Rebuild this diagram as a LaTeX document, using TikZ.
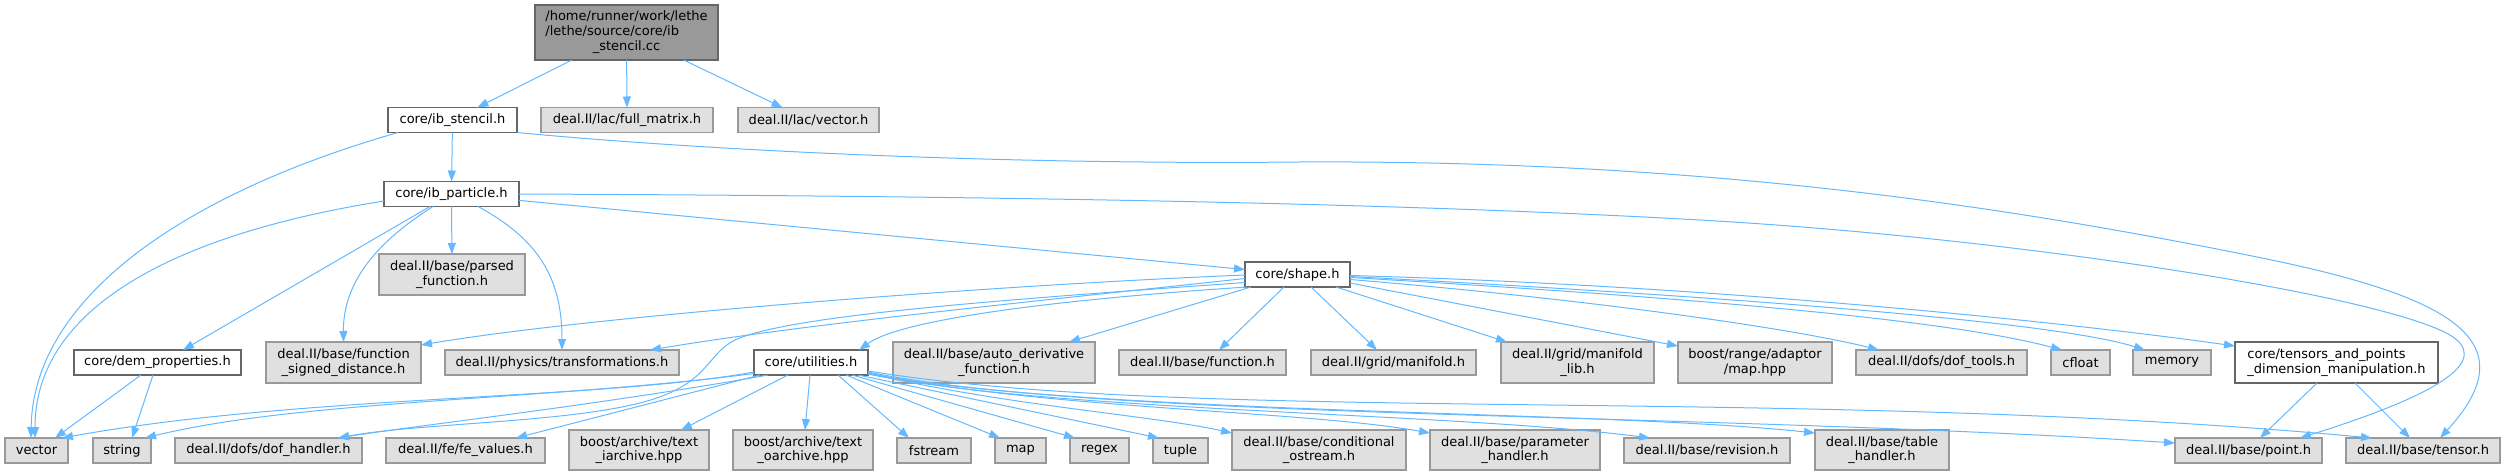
\documentclass[tikz,border=0pt]{standalone}
\usepackage{fontspec}
\setmainfont{DejaVu Sans}
\usetikzlibrary{arrows.meta,calc}
\definecolor{edgec}{HTML}{63B8FF}
\definecolor{gfill}{HTML}{E0E0E0}
\definecolor{gline}{HTML}{999999}
\definecolor{wline}{HTML}{666666}
\definecolor{mfill}{HTML}{999999}
\begin{document}
\begin{tikzpicture}[x=1pt,y=-1pt,
  every node/.style={font=\fontsize{13pt}{14.7pt}\selectfont, inner sep=0pt, outer sep=0pt, text=black},
  gbox/.style={draw=gline, fill=gfill, line width=1.2pt, align=center},
  wbox/.style={draw=wline, fill=white, line width=1.2pt, align=center},
  mbox/.style={draw=wline, fill=mfill, line width=1.2pt},
  conn/.style={draw=edgec, line width=1pt, -{Triangle[length=11pt,width=8pt]}},
  s1/.style={minimum height=25pt},
  s2/.style={minimum height=41pt}
]
\useasboundingbox (0,0) rectangle (2505,476);

% nodes
\node[mbox, minimum width=183pt, minimum height=55pt] (main) at (626.5,32.5)
  {\begin{tabular}{@{}l@{}}/home/runner/work/lethe\\/lethe/source/core/ib\\\multicolumn{1}{@{}c@{}}{\_stencil.cc}\end{tabular}};
\node[wbox, s1, minimum width=129pt] (stencil) at (452.5,120) {core/ib\_stencil.h};
\node[gbox, s1, minimum width=172pt] (fullm) at (627,120) {deal.II/lac/full\_matrix.h};
\node[gbox, s1, minimum width=141pt] (lvec) at (808.5,120) {deal.II/lac/vector.h};
\node[wbox, s1, minimum width=135pt] (part) at (451.5,194) {core/ib\_particle.h};
\node[gbox, s2, minimum width=146pt] (parsed) at (452,274.5) {deal.II/base/parsed\\\_function.h};
\node[wbox, s1, minimum width=105pt] (shape) at (1297.5,274.5) {core/shape.h};

\node[wbox, s1, minimum width=167pt] (dem) at (157.5,362.5) {core/dem\_properties.h};
\node[gbox, s2, minimum width=155pt] (fsd) at (343.5,362.5) {deal.II/base/function\\\_signed\_distance.h};
\node[gbox, s1, minimum width=234pt] (trans) at (562,362.5) {deal.II/physics/transformations.h};
\node[wbox, s1, minimum width=114pt] (util) at (811,362.5) {core/utilities.h};
\node[gbox, s2, minimum width=202pt] (autod) at (994,362.5) {deal.II/base/auto\_derivative\\\_function.h};
\node[gbox, s1, minimum width=167pt] (func) at (1202.5,362.5) {deal.II/base/function.h};
\node[gbox, s1, minimum width=165pt] (manif) at (1393.5,362.5) {deal.II/grid/manifold.h};
\node[gbox, s2, minimum width=153pt] (maniflib) at (1577.5,362.5) {deal.II/grid/manifold\\\_lib.h};
\node[gbox, s2, minimum width=154pt] (bmap) at (1755,362.5) {boost/range/adaptor\\/map.hpp};
\node[gbox, s1, minimum width=171pt] (doft) at (1941.5,362.5) {deal.II/dofs/dof\_tools.h};
\node[gbox, s1, minimum width=59pt] (cfloat) at (2080.5,362.5) {cfloat};
\node[gbox, s1, minimum width=78pt] (memory) at (2172,362.5) {memory};
\node[wbox, s2, minimum width=203pt, align=left] (tap) at (2336.5,362.5) {core/tensors\_and\_points\\\_dimension\_manipulation.h};

\node[gbox, s1, minimum width=63pt] (vec) at (36.5,450.5) {vector};
\node[gbox, s1, minimum width=58pt] (str) at (122,450.5) {string};
\node[gbox, s1, minimum width=187pt] (dofh) at (268.5,450.5) {deal.II/dofs/dof\_handler.h};
\node[gbox, s1, minimum width=159pt] (fev) at (465.5,450.5) {deal.II/fe/fe\_values.h};
\node[gbox, minimum height=40pt, minimum width=140pt] (tia) at (639,450) {boost/archive/text\\\_iarchive.hpp};
\node[gbox, minimum height=40pt, minimum width=140pt] (toa) at (803,450) {boost/archive/text\\\_oarchive.hpp};
\node[gbox, s1, minimum width=74pt] (fstr) at (934,450.5) {fstream};
\node[gbox, s1, minimum width=51pt] (map) at (1020.5,450.5) {map};
\node[gbox, s1, minimum width=59pt] (regex) at (1099.5,450.5) {regex};
\node[gbox, s1, minimum width=55pt] (tuple) at (1180.5,450.5) {tuple};
\node[gbox, minimum height=40pt, minimum width=174pt] (cond) at (1319,450) {deal.II/base/conditional\\\_ostream.h};
\node[gbox, minimum height=40pt, minimum width=170pt] (param) at (1515,450) {deal.II/base/parameter\\\_handler.h};
\node[gbox, s1, minimum width=166pt] (rev) at (1707,450.5) {deal.II/base/revision.h};
\node[gbox, minimum height=40pt, minimum width=134pt] (table) at (1882,450) {deal.II/base/table\\\_handler.h};
\node[gbox, s1, minimum width=147pt] (point) at (2248.5,450.5) {deal.II/base/point.h};
\node[gbox, s1, minimum width=154pt] (tensor) at (2423,450.5) {deal.II/base/tensor.h};

% edges from main
\draw[conn] (main) -- (stencil);
\draw[conn] (main) -- (fullm);
\draw[conn] (main) -- (lvec);

% edges from ib_stencil
\draw[conn] (stencil) -- (part);
\draw[conn] ([xshift=10pt]stencil.south west) .. controls (180,195) and (33,300) .. ([xshift=26pt]vec.north west);
\draw[conn] (stencil.south east) .. controls (700,150) and (1000,165) .. (1300,162)
  .. controls (1700,160) and (2000,205) .. (2257,257)
  .. controls (2450,296) and (2530,340) .. ([xshift=94pt]tensor.north west);

% edges from ib_particle
\draw[conn] (part) -- (shape);
\draw[conn] (part.east) .. controls (1000,196) and (1400,203) .. (1700,220)
  .. controls (2000,237) and (2350,290) .. (2440,330)
  .. controls (2490,352) and (2470,385) .. ([xshift=125pt]point.north west);
\draw[conn] ([yshift=-7pt]part.west) .. controls (170,235) and (35,310) .. ([xshift=30pt]vec.north west);
\draw[conn] ([xshift=46pt]part.south west) -- ([xshift=109pt]dem.north west);
\draw[conn] ([xshift=49pt]part.south west) .. controls (380,240) and (343,280) .. (fsd.north);
\draw[conn] (part) -- (parsed);
\draw[conn] ([xshift=94pt]part.south west) .. controls (540,240) and (562,280) .. (trans.north);

% edges from dem_properties
\draw[conn] ([xshift=67pt]dem.south west) -- ([xshift=50pt]vec.north west);
\draw[conn] ([xshift=79pt]dem.south west) -- ([xshift=39pt]str.north west);

% edges from shape
\draw[conn] ([yshift=-0.5pt]shape.west) .. controls (1000,285) and (600,315) .. ([yshift=-3pt]fsd.north east);
\draw[conn] ([yshift=-4pt]shape.west) .. controls (1000,305) and (800,325) .. ([xshift=205pt]trans.north west);
\draw[conn] ([yshift=-8pt]shape.west) .. controls (1000,300) and (790,315) .. (735,340)
  .. controls (705,355) and (710,385) .. (640,403)
  .. controls (560,423) and (420,423) .. ([xshift=163pt]dofh.north west);
\draw[conn] ([xshift=2pt]shape.south west) .. controls (1050,300) and (900,320) .. ([xshift=-9pt]util.north east);
\draw[conn] ([xshift=6pt]shape.south west) -- ([xshift=176pt]autod.north west);
\draw[conn] ([xshift=39pt]shape.south west) -- ([xshift=100pt]func.north west);
\draw[conn] ([xshift=66pt]shape.south west) -- ([xshift=66pt]manif.north west);
\draw[conn] ([xshift=91pt]shape.south west) -- ([xshift=6pt]maniflib.north west);
\draw[conn] ([yshift=-8.5pt]shape.east) -- ([yshift=-4pt]bmap.north west);
\draw[conn] ([yshift=-5pt]shape.east) .. controls (1600,300) and (1800,330) .. ([xshift=23pt]doft.north west);
\draw[conn] ([yshift=-3pt]shape.east) .. controls (1700,298) and (1950,320) .. ([xshift=11pt]cfloat.north west);
\draw[conn] ([yshift=-2pt]shape.east) .. controls (1700,295) and (2050,320) .. ([xshift=12pt]memory.north west);
\draw[conn] ([yshift=-1pt]shape.east) .. controls (1700,285) and (2050,320) .. ([yshift=-4pt]tap.north west);

% edges from tensors_and_points
\draw[conn] ([xshift=82pt]tap.south west) -- ([xshift=85pt]point.north west);
\draw[conn] ([xshift=120pt]tap.south west) -- ([xshift=64pt]tensor.north west);

% edges from utilities
\draw[conn] ([yshift=-9.5pt]util.west) .. controls (600,400) and (300,395) .. ([xshift=57pt]vec.north west);
\draw[conn] ([yshift=-11pt]util.west) .. controls (550,400) and (300,400) .. ([xshift=52pt]str.north west);
\draw[conn] ([xshift=14pt]util.south west) .. controls (600,405) and (420,425) .. ([xshift=163pt]dofh.north west);
\draw[conn] ([xshift=6pt]util.south west) -- ([xshift=130pt]fev.north west);
\draw[conn] ([xshift=34pt]util.south west) -- ([xshift=112pt]tia.north west);
\draw[conn] ([xshift=56pt]util.south west) -- ([xshift=72pt]toa.north west);
\draw[conn] ([xshift=84pt]util.south west) -- ([xshift=12pt]fstr.north west);
\draw[conn] ([xshift=92pt]util.south west) -- ([xshift=5pt]map.north west);
\draw[conn] ([xshift=98pt]util.south west) -- ([xshift=5pt]regex.north west);
\draw[conn] ([xshift=104pt]util.south west) -- ([xshift=6pt]tuple.north west);
\draw[conn] ([yshift=2pt]util.south east) .. controls (1000,405) and (1150,415) .. ([yshift=-3pt]cond.north west);
\draw[conn] ([yshift=2pt]util.south east) .. controls (1050,410) and (1300,410) .. ([yshift=-3pt]param.north west);
\draw[conn] ([yshift=1pt]util.south east) .. controls (1050,412) and (1450,412) .. ([xshift=26pt]rev.north west);
\draw[conn] ([yshift=1pt]util.south east) .. controls (1100,415) and (1600,410) .. ([yshift=-3pt]table.north west);
\draw[conn] ([yshift=3pt]util.south east) .. controls (1100,420) and (1700,412) .. ([yshift=-5pt]point.north west);
\draw[conn] ([yshift=4pt]util.south east) .. controls (1200,425) and (1800,385) .. ([xshift=26pt]tensor.north west);
\end{tikzpicture}
\end{document}
